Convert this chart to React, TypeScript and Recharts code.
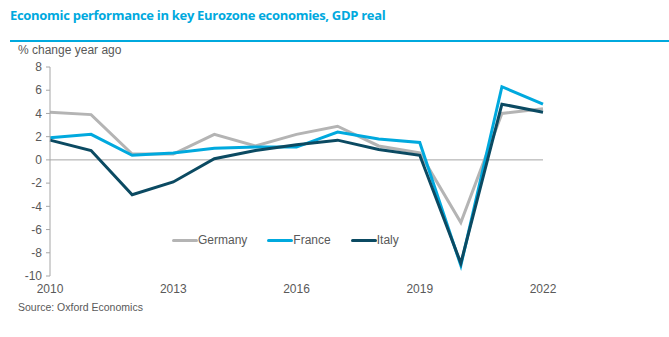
import { LineChart, Line, XAxis, YAxis, ReferenceLine } from "recharts";

const years = [2010, 2011, 2012, 2013, 2014, 2015, 2016, 2017, 2018, 2019, 2020, 2021, 2022];
const germany = [4.1, 3.9, 0.5, 0.5, 2.2, 1.2, 2.2, 2.9, 1.2, 0.6, -5.4, 4.0, 4.4];
const france = [1.9, 2.2, 0.4, 0.6, 1.0, 1.1, 1.1, 2.4, 1.8, 1.5, -9.1, 6.3, 4.8];
const italy = [1.7, 0.8, -3.0, -1.9, 0.1, 0.8, 1.3, 1.7, 0.9, 0.4, -8.9, 4.8, 4.1];
const xTicks = [2010, 2013, 2016, 2019, 2022];
const yTicks = [-10, -8, -6, -4, -2, 0, 2, 4, 6, 8];

const series = [
  { key: "germany", name: "Germany", color: "#B4B4B4" },
  { key: "france", name: "France", color: "#00A9DE" },
  { key: "italy", name: "Italy", color: "#0B4A62" },
];

const data = years.map((y, i) => ({ year: y, germany: germany[i], france: france[i], italy: italy[i] }));

const font = "Liberation Sans, Arial, sans-serif";

const LegendBox = () => (
  <div
    style={{
      position: "absolute",
      left: 172,
      top: 233,
      display: "flex",
      fontFamily: font,
      fontSize: 12,
      color: "#595959",
    }}
  >
    {series.map((s) => (
      <div key={s.key} style={{ display: "flex", alignItems: "center", marginRight: 20 }}>
        <div style={{ width: 26, height: 3, background: s.color, borderRadius: 2 }} />
        <span>{s.name}</span>
      </div>
    ))}
  </div>
);

export default function App() {
  return (
    <div style={{ position: "absolute", left: 0, top: 0, width: 669, height: 337, background: "#fff" }}>
      <div
        style={{
          position: "absolute",
          left: 10,
          top: 40,
          width: 659,
          height: 2,
          background: "#00A9DE",
        }}
      />
      <div
        style={{
          position: "absolute",
          left: 10,
          top: 6,
          fontFamily: "'Open Sans', sans-serif",
          fontWeight: 700,
          fontSize: 13,
          letterSpacing: -0.3,
          color: "#00A9DE",
        }}
      >
        Economic performance in key Eurozone economies, GDP real
      </div>
      <div style={{ position: "absolute", left: 18, top: 43, fontFamily: font, fontSize: 12, color: "#595959" }}>
        % change year ago
      </div>
      <div style={{ position: "absolute", left: 18, top: 301, fontFamily: font, fontSize: 10.5, color: "#595959" }}>
        Source: Oxford Economics
      </div>
      <LineChart
        width={669}
        height={337}
        data={data}
        margin={{ top: 67, right: 126, bottom: 41, left: 0 }}
        style={{ position: "absolute", left: 0, top: 0 }}
      >
        <XAxis
          dataKey="year"
          type="number"
          domain={[2010, 2022]}
          ticks={xTicks}
          axisLine={false}
          tickLine={false}
          tickSize={0}
          tickMargin={8}
          height={20}
          tick={{ fill: "#595959", fontSize: 12, fontFamily: font }}
        />
        <YAxis
          type="number"
          domain={[-10, 8]}
          ticks={yTicks}
          width={50}
          interval={0}
          axisLine={{ stroke: "#A6A6A6" }}
          tickLine={{ stroke: "#A6A6A6" }}
          tickSize={4}
          tickMargin={4}
          tick={{ fill: "#595959", fontSize: 12, fontFamily: font }}
        />
        <ReferenceLine y={0} stroke="#A6A6A6" strokeWidth={1} />
        {series.map((s) => (
          <Line
            key={s.key}
            dataKey={s.key}
            name={s.name}
            stroke={s.color}
            strokeWidth={3}
            dot={false}
            type="linear"
            isAnimationActive={false}
          />
        ))}
      </LineChart>
      <LegendBox />
    </div>
  );
}
